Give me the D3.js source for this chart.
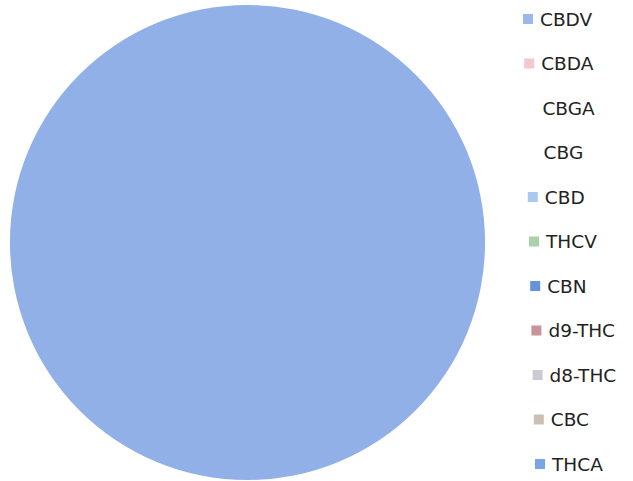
<!DOCTYPE html>
<html><head><meta charset="utf-8">
<script src="https://cdn.jsdelivr.net/npm/d3@7"></script>
<style>html,body{margin:0;padding:0;background:#fff;}svg{display:block;}</style>
</head><body>
<svg id="c" width="633" height="481"></svg>
<script>
const categories = ["CBDV","CBDA","CBGA","CBG","CBD","THCV","CBN","d9-THC","d8-THC","CBC","THCA"];
const values = [0,0,0,0,0,0,0,0,0,0,100];
const colors = ["#9ab8ec","#f2c9cd","#ffffff","#ffffff","#aac8f0","#a9d2a8","#6393da","#c8949c","#cacbd2","#cbc0b4","#7aa4e8"];
const sliceFill = "#90b0e7";

const svg = d3.select("#c");
const cx = 247.5, cy = 242.5, r = 237.5;
const pie = d3.pie().sort(null).value(d => d.v);
const arc = d3.arc().innerRadius(0).outerRadius(r);
const data = categories.map((c,i)=>({c, v: values[i], col: colors[i]}));

svg.append("g").attr("transform",`translate(${cx},${cy})`)
  .selectAll("path").data(pie(data).filter(d=>d.data.v>0)).join("path")
  .attr("d", arc)
  .attr("fill", d => d.data.c === "THCA" ? sliceFill : d.data.col);

const y = d3.scalePoint().domain(categories).range([19, 464]);
const lg = svg.append("g");
const items = lg.selectAll("g").data(data).join("g")
  .attr("transform",(d,i)=>`translate(${523 + i*1.2},${y(d.c)})`);
items.append("rect").attr("x",0).attr("y",-5).attr("width",10).attr("height",10)
  .attr("fill", d=>d.col);
items.append("text").attr("x",17).attr("y",0).attr("dy","0.36em")
  .attr("font-family","'DejaVu Sans', sans-serif").attr("font-size",18.5)
  .attr("fill","#222").text(d=>d.c);
</script>
</body></html>
